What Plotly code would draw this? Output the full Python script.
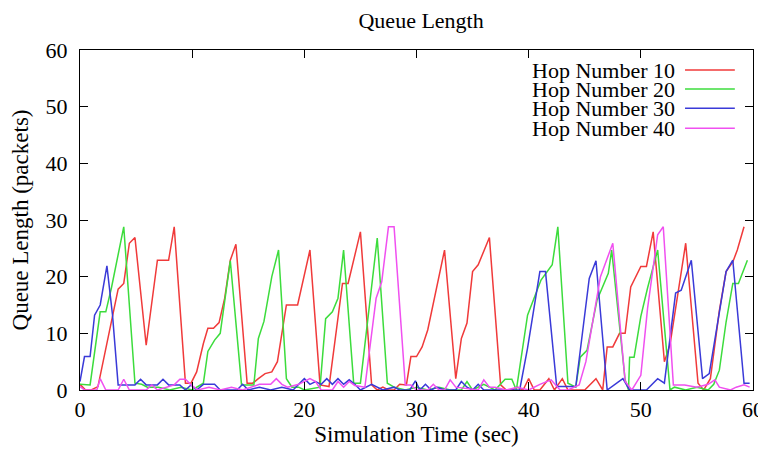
import plotly.graph_objects as go

# ---- data ----
series_names = ["Hop Number 10", "Hop Number 20", "Hop Number 30", "Hop Number 40"]
series_colors = ["#f03a3a", "#3cdc3c", "#3a3ad8", "#f050f0"]

hop10_t = [0, 0.5, 1.0, 1.6, 3.4, 3.9, 4.4, 4.9, 5.9, 6.9, 7.9, 8.4, 9.4, 9.9, 10.4, 11.0, 11.4, 11.9,
           12.4, 12.9, 13.4, 13.9, 14.9, 15.4, 15.9, 16.5, 17.1, 17.6, 18.4, 19.4, 20.5, 21.4, 22.2,
           23.4, 23.9, 25.0, 26.0, 26.5, 27.0, 27.5, 28.0, 28.5, 29.1, 29.5, 30.0, 30.5, 31.0, 31.5,
           32.5, 33.5, 34.0, 34.5, 35.0, 35.5, 36.5, 37.5, 38.0, 38.5, 39.0, 39.5, 40.0, 40.5, 41.0,
           41.8, 42.3, 43.0, 43.5, 44.0, 45.0, 46.0, 46.6, 47.0, 47.5, 48.1, 48.6, 49.1, 50.0, 50.5,
           51.1, 52.1, 52.6, 54.0, 55.1, 55.6, 56.2, 57.0, 57.6, 58.2, 58.6, 59.2]
hop10_q = [1, 0, 0, 0.6, 17.8, 18.8, 25.9, 26.9, 7.9, 22.9, 22.9, 28.8, 1.2, 1.2, 3.2, 8.2, 10.9, 10.9,
           11.9, 16.2, 22.9, 25.7, 1.2, 1.2, 2, 2.9, 3.2, 5, 15, 15, 24.7, 0.9, 0.6,
           18.8, 18.8, 27.9, 0.9, 0, 0.5, 0, 0, 1, 0.9, 5.9, 5.9, 7.6, 10.6, 15.3,
           24.7, 2, 9.1, 11.8, 20.9, 22.1, 26.9, 0.9, 0, 0, 0.5, 0, 2, 0, 0,
           2, 0, 2, 0, 0, 0, 2, 0, 7.6, 7.6, 10, 10, 18.2, 21.8, 21.8,
           27.9, 5, 8, 25.9, 1.2, 0, 2, 14, 20.9, 22.6, 24.7, 28.8]

hop20_t = [0, 0.9, 1.8, 2.3, 2.8, 3.9, 4.9, 5.5, 6.0, 7.0, 8.0, 9.0, 10.0, 11.0, 11.4, 12.0, 12.5, 13.4,
           14.4, 15.5, 15.9, 16.4, 17.1, 17.7, 18.4, 18.9, 19.5, 20.0, 21.4, 21.9, 22.5, 23.0, 23.5,
           24.4, 25.0, 25.4, 26.0, 26.5, 27.4, 28.0, 29.0, 30.0, 31.0, 32.0, 33.0, 34.0, 34.5, 35.0,
           36.0, 37.0, 37.9, 38.5, 38.9, 39.9, 41.1, 42.1, 42.6, 43.5, 44.2, 44.6, 45.2, 46.1, 47.1,
           47.4, 48.6, 48.9, 49.0, 49.4, 50.0, 50.6, 51.5, 52.6, 53.0, 54.0, 55.0, 56.0, 56.5, 57.0,
           57.6, 58.2, 58.7, 59.5]
hop20_q = [1, 0.9, 13.8, 13.8, 18, 28.8, 1.2, 1, 0.5, 0.5, 0, 0.5, 0, 1.2, 6.8, 8.8, 10, 22.8,
           0.9, 0.9, 9.1, 12.1, 20, 24.7, 2, 0.5, 0.5, 0, 0.5, 12.6, 13.8, 16.2, 24.7,
           1.2, 1.2, 7.9, 18.2, 26.8, 1.2, 0.5, 0, 0.5, 0, 0.5, 0, 0, 1.5, 0,
           1, 0, 1.9, 1.9, 0, 13.2, 19.4, 22.1, 28.8, 1.2, 0.5, 5.8, 7, 15.9, 20.6,
           24.7, 1.8, 0, 5.8, 5.8, 13, 18, 24.7, 0, 0.5, 0, 0.5, 0, 1, 3.5,
           12, 18.8, 18.8, 22.9]

hop30_t = [0, 0.4, 0.9, 1.3, 1.8, 2.4, 2.9, 3.4, 4.9, 5.4, 5.9, 6.9, 7.4, 7.9, 8.9, 9.4, 9.9, 10.4,
           11.0, 12.0, 12.5, 13.0, 14.0, 14.5, 15.0, 16.0, 17.0, 18.0, 19.0, 19.5, 20.0, 20.5, 21.0,
           21.5, 22.0, 22.5, 23.0, 23.5, 24.0, 24.5, 25.0, 26.0, 26.5, 27.0, 28.0, 28.5, 29.4, 29.9,
           30.3, 30.8, 31.3, 31.8, 32.5, 33.5, 34.0, 34.5, 35.0, 35.5, 36.0, 37.0, 38.0, 39.2, 39.9,
           41.0, 41.5, 42.5, 43.3, 44.2, 45.4, 46.0, 47.0, 47.9, 48.4, 49.0, 50.5, 51.5, 52.1, 53.1,
           53.6, 54.5, 55.5, 56.1, 57.6, 58.2, 59.2, 59.7]
hop30_q = [1.5, 5.9, 5.9, 13.2, 15, 21.9, 13.2, 0.9, 0.9, 1.9, 0.9, 0.9, 1.9, 0.9, 0.9, 0, 0.9, 0,
           1, 1, 0, 0, 0, 1, 0, 0.5, 0, 0.5, 0, 1, 2, 1, 1.5,
           1, 2, 1, 2, 1, 1.8, 1, 0, 1, 0.5, 0, 0.5, 0, 0, 1.6,
           0, 1, 0, 0.5, 0, 0, 1.5, 0.5, 0, 1, 0, 0, 0, 0, 7.4,
           20.9, 20.9, 0.6, 0.6, 0.6, 19.7, 22.8, 0, 1.2, 2, 0, 0, 2, 1.2, 17.1,
           17.6, 22.9, 2, 2.9, 20.9, 22.9, 1.2, 1.2]

hop40_t = [0, 0.4, 1.5, 1.8, 2.3, 3.4, 3.9, 4.4, 5.9, 6.4, 6.9, 8.4, 8.9, 9.4, 9.9, 10.5, 11.5, 12.5,
           13.5, 14.5, 16.0, 17.0, 17.5, 18.0, 18.5, 19.5, 20.5, 21.0, 21.5, 22.5, 23.0, 23.5, 24.0,
           24.5, 25.4, 26.4, 26.9, 27.5, 28.0, 29.0, 29.5, 30.0, 31.0, 31.5, 32.0, 32.5, 33.0, 33.5,
           35.5, 36.0, 36.5, 37.0, 38.0, 39.0, 40.0, 41.0, 42.0, 42.8, 43.5, 44.5, 45.1, 46.4, 47.5,
           48.6, 49.2, 50.0, 50.6, 51.5, 52.0, 52.9, 53.9, 55.0, 56.0, 56.6, 57.0, 58.0, 58.5, 59.2,
           59.7]
hop40_q = [0.6, 0, 0, 2, 0, 0, 1.9, 0, 0, 0.9, 0, 0.9, 1.9, 1.9, 0.9, 0, 0.5, 0,
           0.5, 0, 1, 1, 2, 1, 0.5, 1, 2, 1.5, 0, 0, 1.5, 0.5, 1.5,
           0.8, 0.5, 16.2, 19.1, 28.8, 28.8, 0.9, 0.9, 0, 0, 1, 0, 0, 1.8, 0.5,
           0, 1.8, 0.5, 0.5, 0, 0.5, 0, 1, 1.8, 0, 0, 0.9, 5, 20, 25.9,
           1.5, 0, 2.6, 14.4, 27.4, 28.8, 0.9, 0.9, 0.5, 1, 1.8, 0.5, 0, 0.5, 0.9,
           0.5]

x_ticks = [0, 10, 20, 30, 40, 50, 60]
y_ticks = [0, 10, 20, 30, 40, 50, 60]

chart_title = "Queue Length"
x_title = "Simulation Time (sec)"
y_title = "Queue Length (packets)"

# ---- figure ----
FONT = "Liberation Serif, Times New Roman, serif"
fig = go.Figure()
all_t = [hop10_t, hop20_t, hop30_t, hop40_t]
all_q = [hop10_q, hop20_q, hop30_q, hop40_q]
for name, col, t, q in zip(series_names, series_colors, all_t, all_q):
    fig.add_trace(go.Scatter(x=t, y=q, mode="lines", name=name,
                             line=dict(color=col, width=1.5), showlegend=False))

# gnuplot-style key: text on the left, line sample on the right
row_y = [0.941, 0.885, 0.829, 0.770]
for name, col, ry in zip(series_names, series_colors, row_y):
    fig.add_annotation(x=0.887, y=ry, xref="paper", yref="paper", text=name,
                       showarrow=False, xanchor="right", yanchor="middle",
                       font=dict(family=FONT, size=22, color="black"))
    fig.add_shape(type="line", xref="paper", yref="paper", x0=0.899, x1=0.973,
                  y0=ry, y1=ry, line=dict(color=col, width=1.5))

axis_common = dict(showline=True, linecolor="black", linewidth=1, mirror="ticks",
                   ticks="inside", ticklen=8, tickcolor="black", tickwidth=1,
                   showgrid=False, zeroline=False, automargin=False,
                   tickfont=dict(family=FONT, size=22, color="black"))
fig.update_xaxes(range=[0, 60], tickvals=x_ticks, **axis_common,
                 title=dict(text=x_title, font=dict(family=FONT, size=23, color="black"), standoff=4))
fig.update_yaxes(range=[0, 60], tickvals=y_ticks, ticklabelstandoff=7, **axis_common,
                 title=dict(text=y_title, font=dict(family=FONT, size=23, color="black"), standoff=12))

fig.update_layout(
    width=758, height=442,
    margin=dict(l=72, r=13, t=42, b=60),
    paper_bgcolor="white", plot_bgcolor="white",
    title=dict(text=chart_title, x=0.545, xanchor="center", y=0.972, yanchor="middle",
               font=dict(family=FONT, size=22, color="black")),
)

fig.write_html("out.html")
